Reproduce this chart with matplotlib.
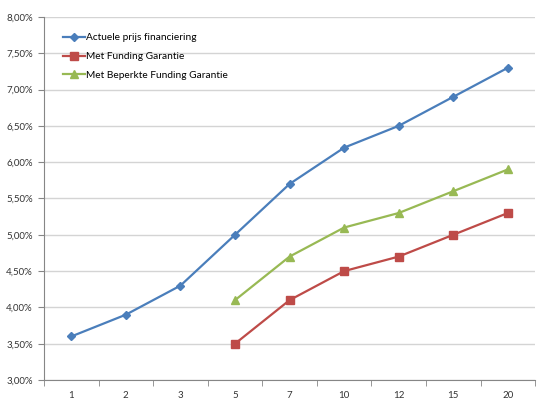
import numpy as np
import matplotlib
matplotlib.use("Agg")
import matplotlib.pyplot as plt
from matplotlib.ticker import FuncFormatter, FixedLocator

plt.rcParams['font.family'] = ['Lato', 'DejaVu Sans']

looptijden = ['1', '2', '3', '5', '7', '10', '12', '15', '20']
actuele_prijs = [3.6, 3.9, 4.3, 5.0, 5.7, 6.2, 6.5, 6.9, 7.3]
funding_garantie = [None, None, None, 3.5, 4.1, 4.5, 4.7, 5.0, 5.3]
beperkte_garantie = [None, None, None, 4.1, 4.7, 5.1, 5.3, 5.6, 5.9]

fig = plt.figure(figsize=(5.5, 4.03), dpi=100)
ax = fig.add_axes([0.08, 0.057, 0.893, 0.901])

x = np.arange(len(looptijden))


def series(vals):
    xs = [i for i, v in enumerate(vals) if v is not None]
    ys = [v for v in vals if v is not None]
    return xs, ys


xs, ys = series(actuele_prijs)
ax.plot(xs, ys, color='#4A7EBB', lw=1.6, marker='D', ms=4.5,
        label='Actuele prijs financiering')
xs, ys = series(funding_garantie)
ax.plot(xs, ys, color='#BE4B48', lw=1.6, marker='s', ms=6,
        label='Met Funding Garantie')
xs, ys = series(beperkte_garantie)
ax.plot(xs, ys, color='#98B954', lw=1.6, marker='^', ms=6,
        label='Met Beperkte Funding Garantie')

ax.set_xlim(-0.5, len(looptijden) - 0.5)
ax.set_ylim(3.0, 8.0)
ax.set_yticks(np.arange(3.0, 8.01, 0.5))
ax.yaxis.set_major_formatter(FuncFormatter(lambda v, p: f'{v:.2f}%'.replace('.', ',')))
ax.set_xticks(x)
ax.set_xticklabels(looptijden)
ax.xaxis.set_minor_locator(FixedLocator(np.arange(-0.5, len(looptijden), 1.0)))
ax.tick_params(axis='x', which='major', length=0, pad=8)
ax.tick_params(axis='x', which='minor', length=4, direction='out', color='#868686')
ax.tick_params(axis='y', length=4, direction='out', color='#868686', pad=4)
ax.tick_params(labelsize=7, labelcolor='#333333')

ax.grid(axis='y', color='#d4d4d4', lw=1)
ax.set_axisbelow(True)
for s in ['top', 'right']:
    ax.spines[s].set_visible(False)
for s in ['left', 'bottom']:
    ax.spines[s].set_color('#868686')
    ax.spines[s].set_linewidth(0.8)

ax.legend(loc='upper left', bbox_to_anchor=(0.02, 0.98), frameon=False,
          fontsize=7.3, handlelength=2.2, handletextpad=0.1, labelspacing=0.95)

fig.savefig('out.png', dpi=100)
